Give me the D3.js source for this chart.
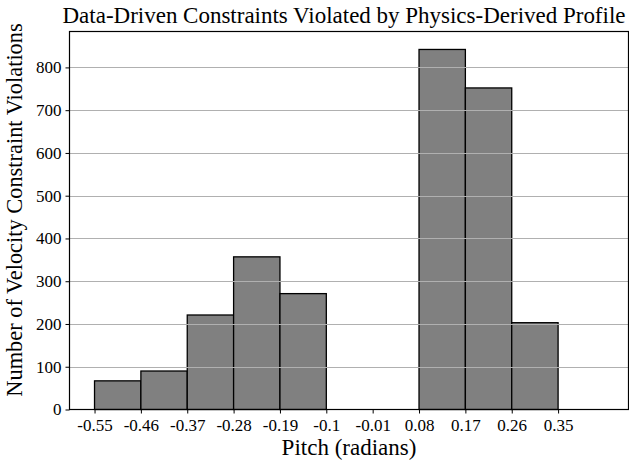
<!DOCTYPE html>
<html>
<head>
<meta charset="utf-8">
<script src="https://cdn.jsdelivr.net/npm/d3@7"></script>
<style>
  body { margin: 0; background: #fff; }
  text { font-family: "Liberation Serif", "DejaVu Serif", serif; fill: #000; }
</style>
</head>
<body>
<div id="chart"></div>
<script>
// bin edges (radians) and violation counts per bin
var binEdges = [-0.55, -0.46, -0.37, -0.28, -0.19, -0.1, -0.01, 0.08, 0.17, 0.26, 0.35];
var counts = [67, 90, 221, 357, 271, 0, 0, 842, 752, 203];
var xTickLabels = ["-0.55", "-0.46", "-0.37", "-0.28", "-0.19", "-0.1", "-0.01", "0.08", "0.17", "0.26", "0.35"];
var yTicks = [0, 100, 200, 300, 400, 500, 600, 700, 800];

var width = 629;
var height = 462;
var plotLeft = 69.5, plotRight = 628.5, plotTop = 31.5, plotBottom = 409.5;

var svg = d3.select("#chart").append("svg")
    .attr("width", width)
    .attr("height", height);

var x = d3.scaleLinear()
    .domain([-0.5986, 0.4867])
    .range([plotLeft, plotRight]);

var y = d3.scaleLinear()
    .domain([0, 884])
    .range([plotBottom, plotTop]);

var bins = counts.map(function(c, i) {
  return {x0: binEdges[i], x1: binEdges[i + 1], count: c};
});

// bars
svg.append("g").selectAll("rect")
  .data(bins.filter(function(d){ return d.count > 0; }))
  .enter().append("rect")
    .attr("x", function(d){ return x(d.x0); })
    .attr("y", function(d){ return y(d.count); })
    .attr("width", function(d){ return x(d.x1) - x(d.x0); })
    .attr("height", function(d){ return y(0) - y(d.count); })
    .style("fill", "#808080")
    .style("stroke", "#000")
    .style("stroke-width", 1.3);

// horizontal grid, on top of bars
svg.append("g").selectAll("line")
  .data(yTicks.slice(1))
  .enter().append("line")
    .attr("x1", plotLeft).attr("x2", plotRight)
    .attr("y1", function(d){ return Math.round(y(d)) + 0.5; })
    .attr("y2", function(d){ return Math.round(y(d)) + 0.5; })
    .style("stroke", "#b0b0b0")
    .style("stroke-width", 1);

// axes
var xAxis = d3.axisBottom(x)
    .tickValues(binEdges)
    .tickFormat(function(d, i){ return xTickLabels[i]; })
    .tickSize(4)
    .tickPadding(5.5);

var yAxis = d3.axisLeft(y)
    .tickValues(yTicks)
    .tickSize(4)
    .tickPadding(4);

var gx = svg.append("g")
    .attr("transform", "translate(0," + plotBottom + ")")
    .call(xAxis);
var gy = svg.append("g")
    .attr("transform", "translate(" + plotLeft + ",0)")
    .call(yAxis);

[gx, gy].forEach(function(g){
  g.select(".domain").remove();
  g.selectAll("line").style("stroke", "#000").style("stroke-width", 1);
  g.selectAll("text").style("font-size", "17px").style("font-family", "'Liberation Serif', serif");
});

// frame
svg.append("rect")
    .attr("x", plotLeft).attr("y", plotTop)
    .attr("width", plotRight - plotLeft).attr("height", plotBottom - plotTop)
    .style("fill", "none")
    .style("stroke", "#000")
    .style("stroke-width", 1.2);

// title and labels
svg.append("text")
    .attr("x", 344)
    .attr("y", 23)
    .attr("text-anchor", "middle")
    .attr("textLength", 563)
    .attr("lengthAdjust", "spacing")
    .style("font-size", "23px")
    .text("Data-Driven Constraints Violated by Physics-Derived Profile");

svg.append("text")
    .attr("x", 349)
    .attr("y", 455)
    .attr("text-anchor", "middle")
    .style("font-size", "23px")
    .text("Pitch (radians)");

svg.append("text")
    .attr("transform", "translate(22,210) rotate(-90)")
    .attr("text-anchor", "middle")
    .style("font-size", "22.4px")
    .text("Number of Velocity Constraint Violations");
</script>
</body>
</html>
